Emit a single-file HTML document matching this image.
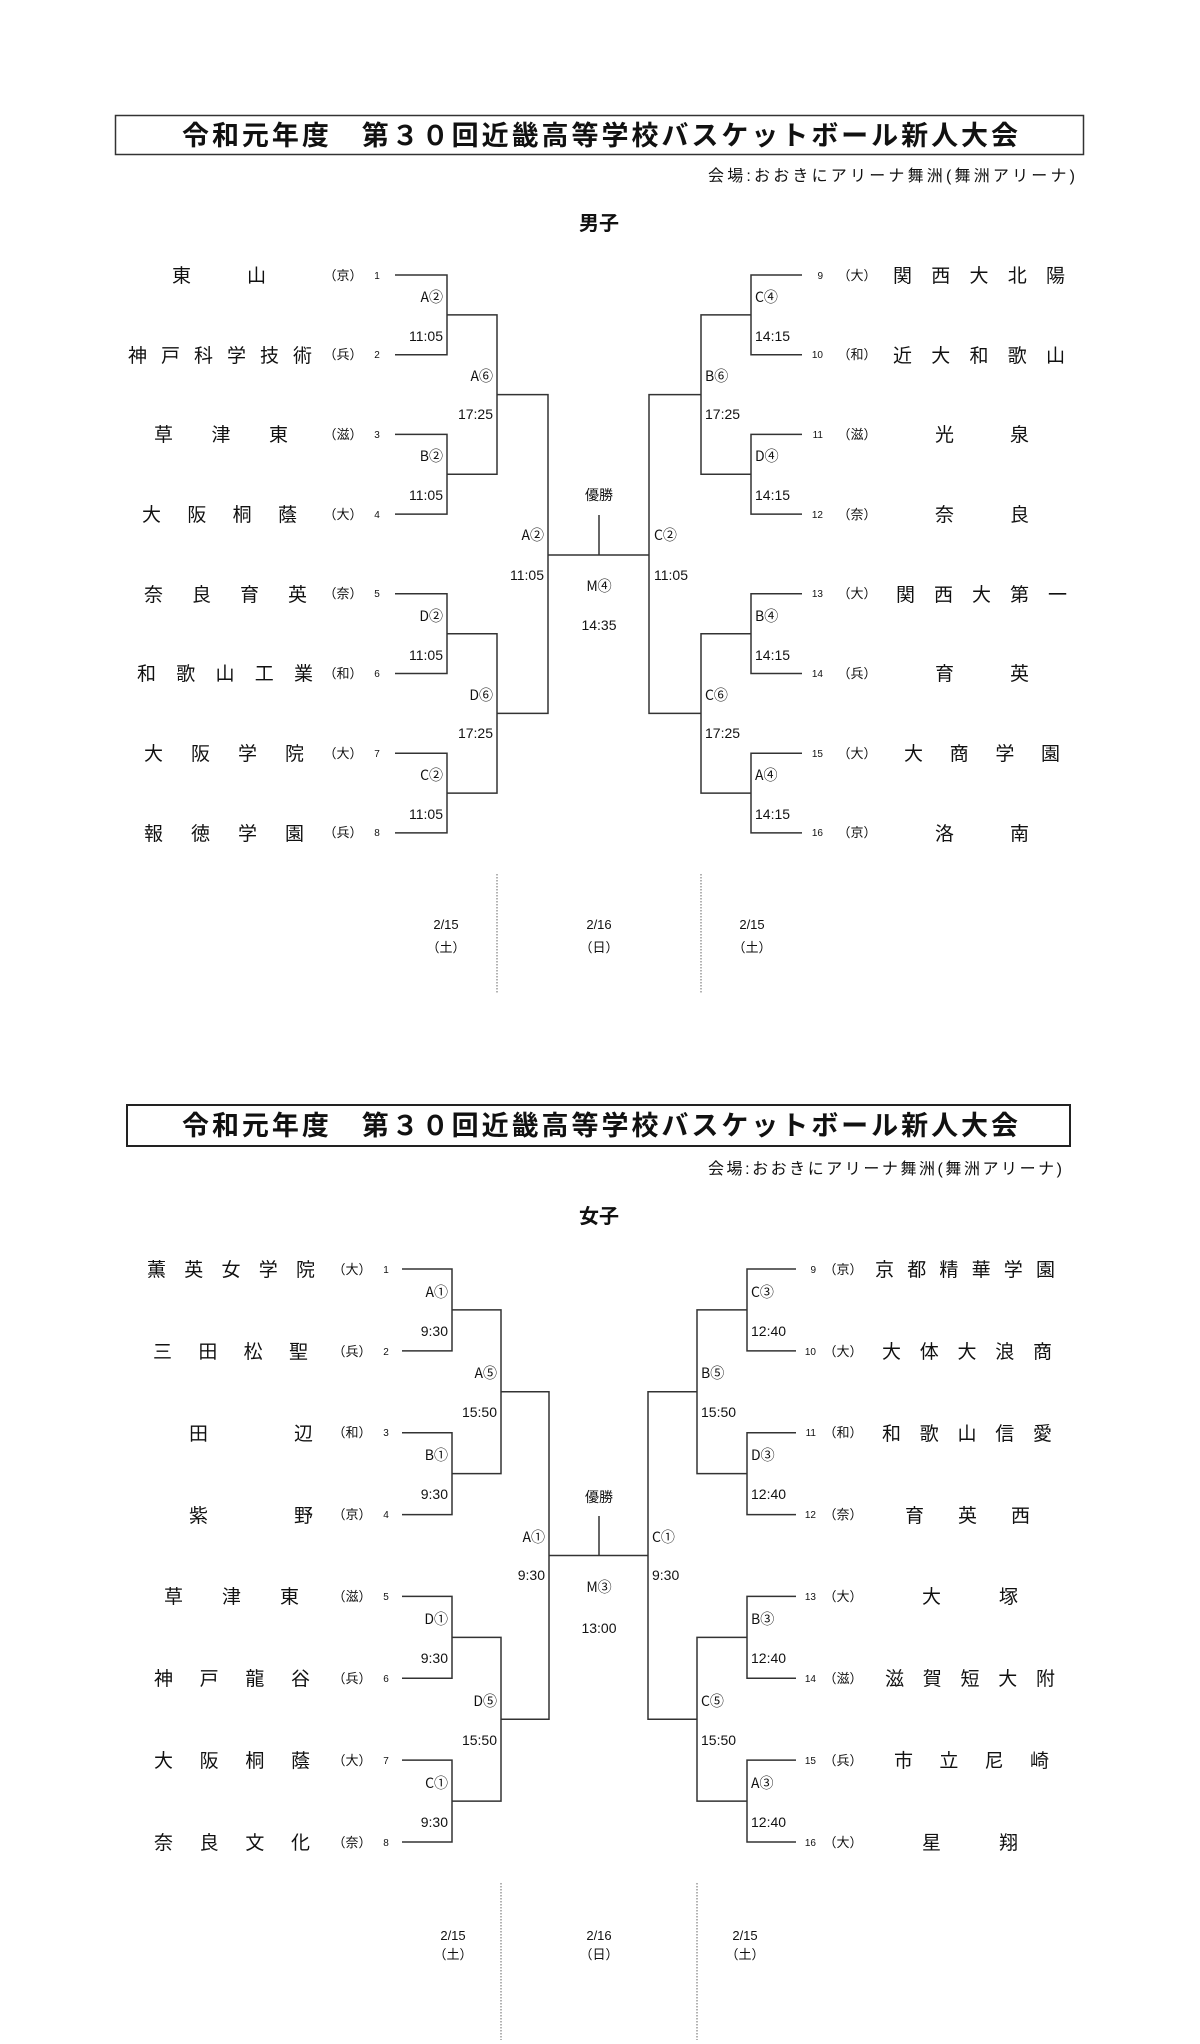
<!DOCTYPE html>
<html><head><meta charset="utf-8">
<style>
html,body{margin:0;padding:0;background:#fff;}
svg{display:block;}
text{font-family:"Liberation Sans","Noto Sans CJK JP",sans-serif;fill:#111;}
.t{font-size:27px;font-weight:bold;}
.v{font-size:16px;}
.h{font-size:20px;font-weight:bold;}
.n{font-size:19px;}
.p{font-size:13px;}
.num{font-size:10px;}
.l{font-size:14px;}
.c{font-family:"Noto Sans CJK JP","Liberation Sans",sans-serif;}
.d{font-size:13px;}
.ln{stroke:#333;stroke-width:1.5;fill:none;}
.dot{stroke:#666;stroke-width:1;stroke-dasharray:1.5 1.5;}
</style></head><body>
<svg width="1200" height="2044" viewBox="0 0 1200 2044" xmlns="http://www.w3.org/2000/svg">
<!-- ================= MEN ================= -->
<rect x="115.5" y="115.5" width="968" height="39" fill="none" stroke="#333" stroke-width="1.5"/>
<text class="t" x="182" y="145" textLength="836" lengthAdjust="spacing">令和元年度　第３０回近畿高等学校バスケットボール新人大会</text>
<text class="v" x="708" y="181" textLength="367" lengthAdjust="spacing">会場:おおきにアリーナ舞洲(舞洲アリーナ)</text>
<text class="h" x="599" y="230" text-anchor="middle">男子</text>

<text class="n" x="172" y="282" textLength="94" lengthAdjust="spacing">東山</text>
<text class="n" x="128" y="362" textLength="184" lengthAdjust="spacing">神戸科学技術</text>
<text class="n" x="154" y="441" textLength="134" lengthAdjust="spacing">草津東</text>
<text class="n" x="142" y="521" textLength="155" lengthAdjust="spacing">大阪桐蔭</text>
<text class="n" x="144" y="601" textLength="163" lengthAdjust="spacing">奈良育英</text>
<text class="n" x="137" y="680" textLength="176" lengthAdjust="spacing">和歌山工業</text>
<text class="n" x="144" y="760" textLength="160" lengthAdjust="spacing">大阪学院</text>
<text class="n" x="144" y="840" textLength="160" lengthAdjust="spacing">報徳学園</text>
<g class="p" text-anchor="middle">
<text x="343" y="280">（京）</text><text x="343" y="359">（兵）</text><text x="343" y="439">（滋）</text><text x="343" y="519">（大）</text>
<text x="343" y="598">（奈）</text><text x="343" y="678">（和）</text><text x="343" y="758">（大）</text><text x="343" y="837">（兵）</text>
</g>
<g class="num" text-anchor="middle">
<text x="377" y="279">1</text><text x="377" y="358">2</text><text x="377" y="438">3</text><text x="377" y="518">4</text>
<text x="377" y="597">5</text><text x="377" y="677">6</text><text x="377" y="757">7</text><text x="377" y="836">8</text>
</g>
<text class="n" x="893" y="282" textLength="172" lengthAdjust="spacing">関西大北陽</text>
<text class="n" x="893" y="362" textLength="172" lengthAdjust="spacing">近大和歌山</text>
<text class="n" x="935" y="441" textLength="94" lengthAdjust="spacing">光泉</text>
<text class="n" x="935" y="521" textLength="94" lengthAdjust="spacing">奈良</text>
<text class="n" x="896" y="601" textLength="171" lengthAdjust="spacing">関西大第一</text>
<text class="n" x="935" y="680" textLength="94" lengthAdjust="spacing">育英</text>
<text class="n" x="904" y="760" textLength="156" lengthAdjust="spacing">大商学園</text>
<text class="n" x="935" y="840" textLength="94" lengthAdjust="spacing">洛南</text>
<g class="p" text-anchor="middle">
<text x="857" y="280">（大）</text><text x="857" y="359">（和）</text><text x="857" y="439">（滋）</text><text x="857" y="519">（奈）</text>
<text x="857" y="598">（大）</text><text x="857" y="678">（兵）</text><text x="857" y="758">（大）</text><text x="857" y="837">（京）</text>
</g>
<g class="num" text-anchor="end">
<text x="823" y="279">9</text><text x="823" y="358">10</text><text x="823" y="438">11</text><text x="823" y="518">12</text>
<text x="823" y="597">13</text><text x="823" y="677">14</text><text x="823" y="757">15</text><text x="823" y="836">16</text>
</g>
<path class="ln" d="M395 275H447V354.7H395 M395 434.4H447V514.1H395 M395 593.8H447V673.5H395 M395 753.2H447V832.9H395
M447 314.9H497V474.3H447 M447 633.7H497V793.1H447
M497 394.6H548V713.4H497 M548 555H649
M802 275H751V354.7H802 M802 434.4H751V514.1H802 M802 593.8H751V673.5H802 M802 753.2H751V832.9H802
M751 314.9H701V474.3H751 M751 633.7H701V793.1H751
M701 394.6H649V713.4H701 M599 515V555"/>
<g class="l" text-anchor="end">
<text class="c" x="443" y="302">A②</text><text x="443" y="341">11:05</text>
<text class="c" x="443" y="461">B②</text><text x="443" y="500">11:05</text>
<text class="c" x="443" y="621">D②</text><text x="443" y="660">11:05</text>
<text class="c" x="443" y="780">C②</text><text x="443" y="819">11:05</text>
<text class="c" x="493" y="381">A⑥</text><text x="493" y="419">17:25</text>
<text class="c" x="493" y="700">D⑥</text><text x="493" y="738">17:25</text>
<text class="c" x="544" y="540">A②</text><text x="544" y="580">11:05</text>
</g>
<g class="l">
<text class="c" x="755" y="302">C④</text><text x="755" y="341">14:15</text>
<text class="c" x="755" y="461">D④</text><text x="755" y="500">14:15</text>
<text class="c" x="755" y="621">B④</text><text x="755" y="660">14:15</text>
<text class="c" x="755" y="780">A④</text><text x="755" y="819">14:15</text>
<text class="c" x="705" y="381">B⑥</text><text x="705" y="419">17:25</text>
<text class="c" x="705" y="700">C⑥</text><text x="705" y="738">17:25</text>
<text class="c" x="654" y="540">C②</text><text x="654" y="580">11:05</text>
</g>
<g class="l" text-anchor="middle">
<text x="599" y="500">優勝</text><text class="c" x="599" y="591">M④</text><text x="599" y="630">14:35</text>
</g>
<line class="dot" x1="497" y1="874" x2="497" y2="993"/>
<line class="dot" x1="701" y1="874" x2="701" y2="993"/>
<g class="d" text-anchor="middle">
<text x="446" y="929">2/15</text><text x="446" y="952">（土）</text>
<text x="599" y="929">2/16</text><text x="599" y="952">（日）</text>
<text x="752" y="929">2/15</text><text x="752" y="952">（土）</text>
</g>

<!-- ================= WOMEN ================= -->
<rect x="127" y="1105" width="943" height="41" fill="none" stroke="#222" stroke-width="2"/>
<text class="t" x="182" y="1135" textLength="836" lengthAdjust="spacing">令和元年度　第３０回近畿高等学校バスケットボール新人大会</text>
<text class="v" x="708" y="1174" textLength="354" lengthAdjust="spacing">会場:おおきにアリーナ舞洲(舞洲アリーナ)</text>
<text class="h" x="599" y="1223" text-anchor="middle">女子</text>

<text class="n" x="147" y="1276" textLength="168" lengthAdjust="spacing">薫英女学院</text>
<text class="n" x="153" y="1358" textLength="155" lengthAdjust="spacing">三田松聖</text>
<text class="n" x="189" y="1440" textLength="124" lengthAdjust="spacing">田辺</text>
<text class="n" x="189" y="1522" textLength="124" lengthAdjust="spacing">紫野</text>
<text class="n" x="164" y="1603" textLength="135" lengthAdjust="spacing">草津東</text>
<text class="n" x="154" y="1685" textLength="156" lengthAdjust="spacing">神戸龍谷</text>
<text class="n" x="154" y="1767" textLength="156" lengthAdjust="spacing">大阪桐蔭</text>
<text class="n" x="154" y="1849" textLength="156" lengthAdjust="spacing">奈良文化</text>
<g class="p" text-anchor="middle">
<text x="352" y="1274">（大）</text><text x="352" y="1356">（兵）</text><text x="352" y="1437">（和）</text><text x="352" y="1519">（京）</text>
<text x="352" y="1601">（滋）</text><text x="352" y="1683">（兵）</text><text x="352" y="1765">（大）</text><text x="352" y="1847">（奈）</text>
</g>
<g class="num" text-anchor="middle">
<text x="386" y="1273">1</text><text x="386" y="1355">2</text><text x="386" y="1436">3</text><text x="386" y="1518">4</text>
<text x="386" y="1600">5</text><text x="386" y="1682">6</text><text x="386" y="1764">7</text><text x="386" y="1846">8</text>
</g>
<text class="n" x="875" y="1276" textLength="180" lengthAdjust="spacing">京都精華学園</text>
<text class="n" x="882" y="1358" textLength="170" lengthAdjust="spacing">大体大浪商</text>
<text class="n" x="882" y="1440" textLength="170" lengthAdjust="spacing">和歌山信愛</text>
<text class="n" x="905" y="1522" textLength="125" lengthAdjust="spacing">育英西</text>
<text class="n" x="922" y="1603" textLength="96" lengthAdjust="spacing">大塚</text>
<text class="n" x="885" y="1685" textLength="170" lengthAdjust="spacing">滋賀短大附</text>
<text class="n" x="894" y="1767" textLength="155" lengthAdjust="spacing">市立尼崎</text>
<text class="n" x="922" y="1849" textLength="96" lengthAdjust="spacing">星翔</text>
<g class="p" text-anchor="middle">
<text x="843" y="1274">（京）</text><text x="843" y="1356">（大）</text><text x="843" y="1437">（和）</text><text x="843" y="1519">（奈）</text>
<text x="843" y="1601">（大）</text><text x="843" y="1683">（滋）</text><text x="843" y="1765">（兵）</text><text x="843" y="1847">（大）</text>
</g>
<g class="num" text-anchor="end">
<text x="816" y="1273">9</text><text x="816" y="1355">10</text><text x="816" y="1436">11</text><text x="816" y="1518">12</text>
<text x="816" y="1600">13</text><text x="816" y="1682">14</text><text x="816" y="1764">15</text><text x="816" y="1846">16</text>
</g>
<path class="ln" d="M402 1269H452V1350.9H402 M402 1432.7H452V1514.6H402 M402 1596.4H452V1678.3H402 M402 1760.1H452V1842H402
M452 1309.9H501V1473.6H452 M452 1637.4H501V1801.1H452
M501 1391.8H549V1719.3H501 M549 1555.5H648
M796 1269H747V1350.9H796 M796 1432.7H747V1514.6H796 M796 1596.4H747V1678.3H796 M796 1760.1H747V1842H796
M747 1309.9H697V1473.6H747 M747 1637.4H697V1801.1H747
M697 1391.8H648V1719.3H697 M599 1516V1555.5"/>
<g class="l" text-anchor="end">
<text class="c" x="448" y="1297">A①</text><text x="448" y="1336">9:30</text>
<text class="c" x="448" y="1460">B①</text><text x="448" y="1499">9:30</text>
<text class="c" x="448" y="1624">D①</text><text x="448" y="1663">9:30</text>
<text class="c" x="448" y="1788">C①</text><text x="448" y="1827">9:30</text>
<text class="c" x="497" y="1378">A⑤</text><text x="497" y="1417">15:50</text>
<text class="c" x="497" y="1706">D⑤</text><text x="497" y="1745">15:50</text>
<text class="c" x="545" y="1542">A①</text><text x="545" y="1580">9:30</text>
</g>
<g class="l">
<text class="c" x="751" y="1297">C③</text><text x="751" y="1336">12:40</text>
<text class="c" x="751" y="1460">D③</text><text x="751" y="1499">12:40</text>
<text class="c" x="751" y="1624">B③</text><text x="751" y="1663">12:40</text>
<text class="c" x="751" y="1788">A③</text><text x="751" y="1827">12:40</text>
<text class="c" x="701" y="1378">B⑤</text><text x="701" y="1417">15:50</text>
<text class="c" x="701" y="1706">C⑤</text><text x="701" y="1745">15:50</text>
<text class="c" x="652" y="1542">C①</text><text x="652" y="1580">9:30</text>
</g>
<g class="l" text-anchor="middle">
<text x="599" y="1502">優勝</text><text class="c" x="599" y="1592">M③</text><text x="599" y="1633">13:00</text>
</g>
<line class="dot" x1="501" y1="1883" x2="501" y2="2040"/>
<line class="dot" x1="697" y1="1883" x2="697" y2="2040"/>
<g class="d" text-anchor="middle">
<text x="453" y="1940">2/15</text><text x="453" y="1959">（土）</text>
<text x="599" y="1940">2/16</text><text x="599" y="1959">（日）</text>
<text x="745" y="1940">2/15</text><text x="745" y="1959">（土）</text>
</g>
</svg>
</body></html>
